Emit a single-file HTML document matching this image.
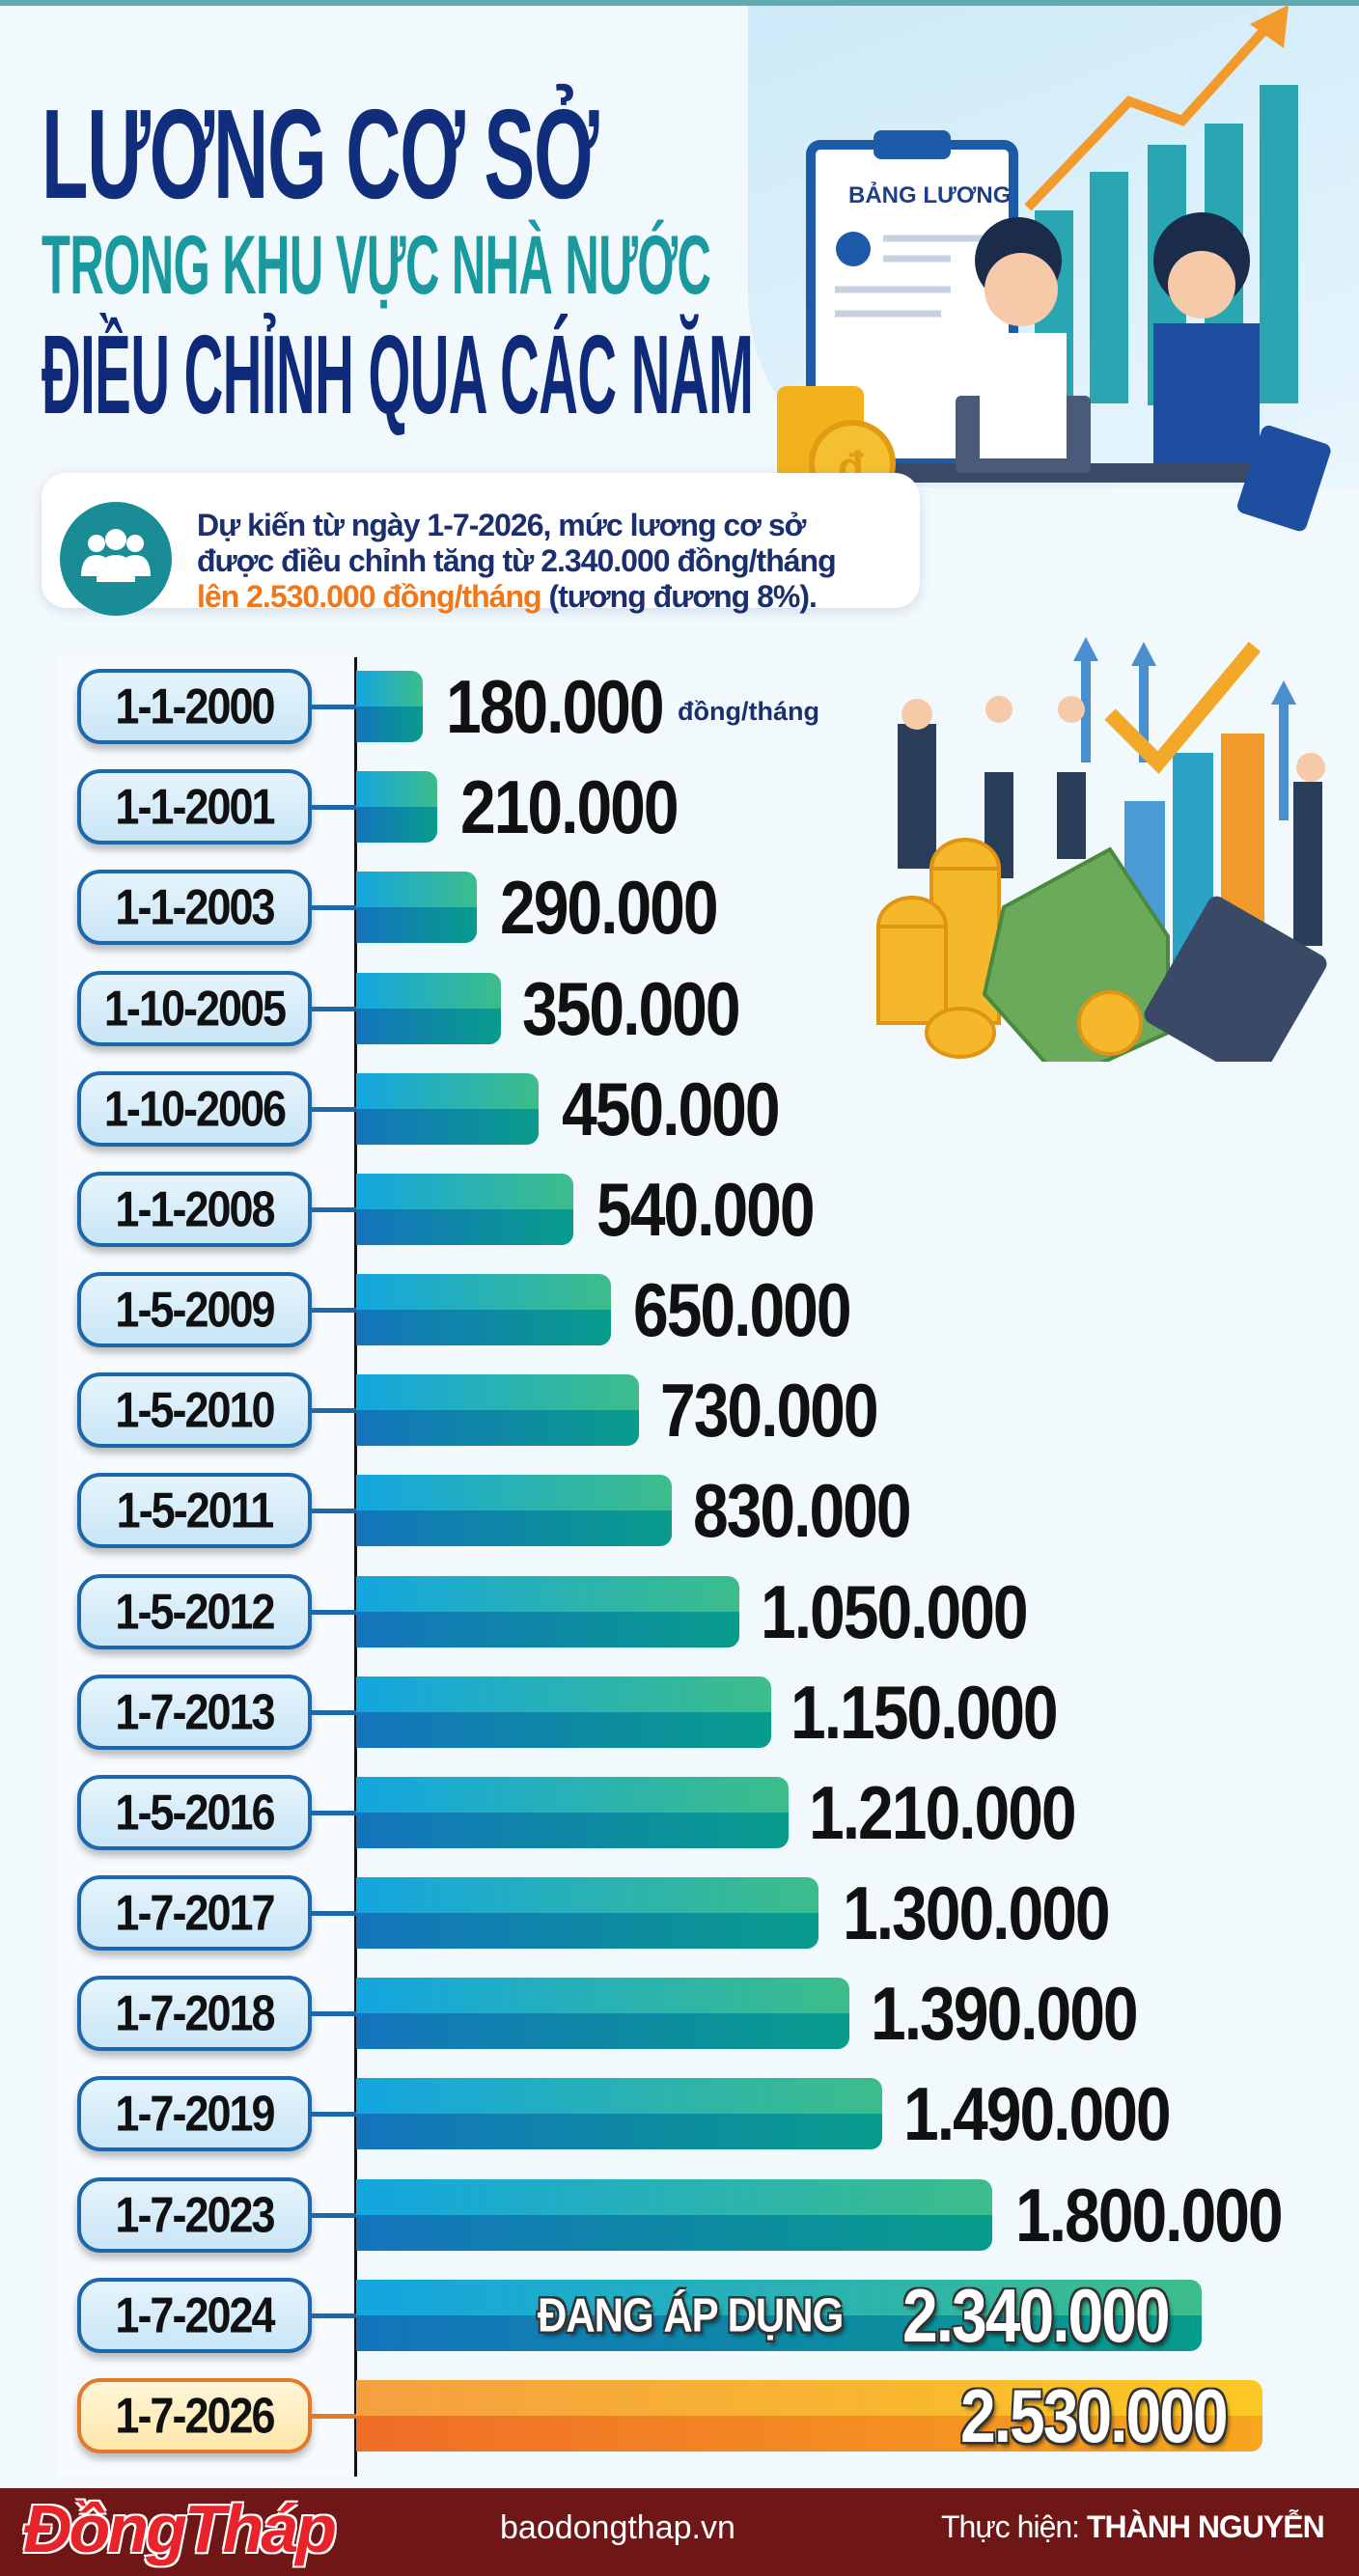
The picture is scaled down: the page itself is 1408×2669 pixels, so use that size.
<!DOCTYPE html>
<html><head><meta charset="utf-8">
<style>
*{margin:0;padding:0;box-sizing:border-box}
body{width:1408px;height:2669px;position:relative;overflow:hidden;background:#f2f9fd;font-family:"Liberation Sans","DejaVu Sans",sans-serif}
.abs{position:absolute}
.t{font-weight:bold;white-space:nowrap;transform-origin:0 0}
.pill{position:absolute;left:80px;width:243px;height:78px;border:4px solid #1d67ad;border-radius:24px;background:linear-gradient(#e6f4fc,#c9e6f7);box-shadow:0 6px 8px rgba(0,0,0,.25);text-align:center;font-weight:bold;font-size:45px;line-height:70px;color:#111;letter-spacing:-2px}
.pill span{display:inline-block;transform:scaleY(1.15)}
.pill.o{border-color:#e27a2a;background:linear-gradient(#fff6d8,#fde6a8)}
.conn{position:absolute;left:323px;width:46px;height:5px;background:#1d67ad}
.bar{position:absolute;left:369px;height:74px;border-radius:0 12px 12px 0;overflow:hidden}
.bar .top{height:50%;background:linear-gradient(90deg,#13a6e0,#3dbd8a)}
.bar .bot{height:50%;background:linear-gradient(90deg,#1474bd,#089c8c)}
.bar.o .top{background:linear-gradient(90deg,#f4a040,#fcc824)}
.bar.o .bot{background:linear-gradient(90deg,#f06d28,#f7a61e)}
.val{position:absolute;font-weight:bold;font-size:66px;color:#111;letter-spacing:-2px;white-space:nowrap;line-height:74px;transform:scaleY(1.18);transform-origin:0 50%}
.wv{color:#fff;text-shadow:2px 2px 0 #333,-2px -2px 0 #333,2px -2px 0 #333,-2px 2px 0 #333,3px 4px 4px rgba(0,0,0,.5)}
</style></head><body>
<div class="abs" style="left:0;top:0;width:1408px;height:6px;background:#5fa9b0"></div>
<div class="abs" style="left:775px;top:6px;width:633px;height:500px;background:linear-gradient(160deg,#cdeaf8,#e9f6fd);border-radius:0 0 0 200px"></div>
<svg class="abs" style="left:775px;top:0" width="633" height="560">
<g fill="#2aa6b2"><rect x="297" y="218" width="40" height="200"/><rect x="354" y="178" width="40" height="240"/><rect x="414" y="150" width="40" height="270"/><rect x="473" y="128" width="40" height="290"/><rect x="530" y="88" width="40" height="330"/></g>
<polyline points="290,215 395,105 450,125 545,20" fill="none" stroke="#f39a2c" stroke-width="10"/>
<polygon points="560,5 520,25 555,50" fill="#f39a2c"/>
<rect x="65" y="150" width="210" height="330" rx="10" fill="#fff" stroke="#1d5aa8" stroke-width="10"/>
<rect x="130" y="135" width="80" height="30" rx="8" fill="#1d5aa8"/>
<text x="104" y="210" font-family="Liberation Sans" font-weight="bold" font-size="24" fill="#1d3f8a">BẢNG LƯƠNG</text>
<circle cx="109" cy="258" r="18" fill="#1d5aa8"/>
<g stroke="#c7d2e0" stroke-width="7"><line x1="140" y1="247" x2="250" y2="247"/><line x1="140" y1="268" x2="210" y2="268"/><line x1="90" y1="300" x2="210" y2="300"/><line x1="90" y1="325" x2="200" y2="325"/></g>
<rect x="30" y="480" width="560" height="20" fill="#3b4a66"/>
<rect x="215" y="410" width="140" height="80" rx="6" fill="#4a5a78"/>
<circle cx="280" cy="270" r="45" fill="#1b2b4a"/><circle cx="283" cy="300" r="38" fill="#f6c9a8"/>
<rect x="240" y="345" width="90" height="130" fill="#fff"/>
<circle cx="470" cy="270" r="50" fill="#1b2b4a"/><circle cx="470" cy="295" r="35" fill="#f6c9a8"/>
<rect x="420" y="335" width="110" height="145" fill="#1d4ea0"/>
<g fill="#f2b21c"><rect x="30" y="400" width="90" height="110" rx="10"/></g>
<circle cx="108" cy="480" r="42" fill="#f5c030" stroke="#e29b12" stroke-width="6"/>
<text x="93" y="498" font-size="44" font-weight="bold" fill="#e29b12" font-family="Liberation Sans">đ</text>
<rect x="518" y="448" width="75" height="95" rx="8" fill="#1d4ea0" transform="rotate(18 555 495)"/>
</svg>
<div class="abs t" style="left:43px;top:84px;font-size:132px;color:#112e7c;transform:scaleX(0.6);letter-spacing:-2px">LƯƠNG CƠ SỞ</div>
<div class="abs t" style="left:43px;top:226px;font-size:86px;color:#1a9a9e;transform:scaleX(0.57);letter-spacing:-1px">TRONG KHU VỰC NHÀ NƯỚC</div>
<div class="abs t" style="left:43px;top:321px;font-size:116px;color:#0f2a78;transform:scaleX(0.485);letter-spacing:-1px">ĐIỀU CHỈNH QUA CÁC NĂM</div>
<div class="abs" style="left:43px;top:490px;width:910px;height:140px;background:#fff;border-radius:26px;box-shadow:0 3px 12px rgba(0,60,120,.15)"></div>
<div class="abs" style="left:62px;top:520px;width:116px;height:118px;border-radius:50%;background:#1a8c96"></div>
<svg class="abs" style="left:80px;top:545px" width="80" height="70"><g fill="#fff"><circle cx="20" cy="18" r="9"/><circle cx="60" cy="18" r="9"/><circle cx="40" cy="14" r="11"/><path d="M4 52 q0-22 16-22 q16 0 16 22z"/><path d="M44 52 q0-22 16-22 q16 0 16 22z"/><path d="M20 58 q0-28 20-28 q20 0 20 28z"/></g></svg>
<div class="abs" style="left:204px;top:526px;font-size:32px;line-height:37px;color:#1b2f6e;font-weight:bold;letter-spacing:-1px;white-space:nowrap">Dự kiến từ ngày 1-7-2026, mức lương cơ sở<br>được điều chỉnh tăng từ 2.340.000 đồng/tháng<br><span style="color:#f0781a">lên 2.530.000 đồng/tháng</span> (tương đương 8%).</div>
<svg class="abs" style="left:880px;top:650px" width="520" height="450">
<g fill="#4a8fd0"><polygon points="245,10 232,35 240,35 240,140 250,140 250,35 258,35"/><polygon points="305,15 292,40 300,40 300,140 310,140 310,40 318,40"/><polygon points="450,55 437,80 445,80 445,200 455,200 455,80 463,80"/></g>
<rect x="285" y="180" width="42" height="170" fill="#4a9ad6"/><rect x="335" y="130" width="42" height="230" fill="#2aa3c4"/>
<rect x="385" y="110" width="45" height="270" fill="#f39a2c"/>
<polyline points="270,90 320,140 420,20" fill="none" stroke="#f4a82a" stroke-width="16"/>
<g fill="#2a3e5a"><rect x="50" y="100" width="40" height="150"/><rect x="140" y="150" width="30" height="110"/><rect x="215" y="150" width="30" height="90"/><rect x="460" y="160" width="30" height="170"/></g>
<g fill="#f6c9a8"><circle cx="70" cy="90" r="16"/><circle cx="155" cy="85" r="14"/><circle cx="230" cy="85" r="14"/><circle cx="478" cy="145" r="15"/></g>
<g fill="#f4b82a" stroke="#e09414" stroke-width="4"><ellipse cx="120" cy="250" rx="35" ry="30"/><rect x="85" y="250" width="70" height="160"/><ellipse cx="65" cy="310" rx="35" ry="30"/><rect x="30" y="310" width="70" height="100"/><ellipse cx="115" cy="420" rx="35" ry="25"/></g>
<polygon points="160,290 270,230 330,320 330,420 220,470 140,380" fill="#6aaa5a" stroke="#4a8a40" stroke-width="4"/>
<rect x="330" y="300" width="140" height="150" rx="10" fill="#3a4a66" transform="rotate(30 400 375)"/>
<circle cx="270" cy="410" r="32" fill="#f4b82a" stroke="#e09414" stroke-width="4"/>
</svg>
<div class="abs" style="left:60px;top:681px;width:309px;height:1885px;background:#f7fbfd"></div>
<div class="abs" style="left:367px;top:681px;width:3px;height:1885px;background:#111"></div>

<div class="pill" style="top:693px"><span>1-1-2000</span></div><div class="conn" style="top:730px"></div><div class="bar" style="top:695px;width:69px"><div class="top"></div><div class="bot"></div></div><div class="val" style="left:462px;top:695px">180.000</div>
<div class="abs" style="left:702px;top:722px;font-size:27px;font-weight:bold;color:#1b2f6e">đồng/tháng</div>
<div class="pill" style="top:797px"><span>1-1-2001</span></div><div class="conn" style="top:834px"></div><div class="bar" style="top:799px;width:84px"><div class="top"></div><div class="bot"></div></div><div class="val" style="left:477px;top:799px">210.000</div>
<div class="pill" style="top:901px"><span>1-1-2003</span></div><div class="conn" style="top:938px"></div><div class="bar" style="top:903px;width:125px"><div class="top"></div><div class="bot"></div></div><div class="val" style="left:518px;top:903px">290.000</div>
<div class="pill" style="top:1006px"><span>1-10-2005</span></div><div class="conn" style="top:1043px"></div><div class="bar" style="top:1008px;width:150px"><div class="top"></div><div class="bot"></div></div><div class="val" style="left:541px;top:1008px">350.000</div>
<div class="pill" style="top:1110px"><span>1-10-2006</span></div><div class="conn" style="top:1147px"></div><div class="bar" style="top:1112px;width:189px"><div class="top"></div><div class="bot"></div></div><div class="val" style="left:582px;top:1112px">450.000</div>
<div class="pill" style="top:1214px"><span>1-1-2008</span></div><div class="conn" style="top:1251px"></div><div class="bar" style="top:1216px;width:225px"><div class="top"></div><div class="bot"></div></div><div class="val" style="left:618px;top:1216px">540.000</div>
<div class="pill" style="top:1318px"><span>1-5-2009</span></div><div class="conn" style="top:1355px"></div><div class="bar" style="top:1320px;width:264px"><div class="top"></div><div class="bot"></div></div><div class="val" style="left:656px;top:1320px">650.000</div>
<div class="pill" style="top:1422px"><span>1-5-2010</span></div><div class="conn" style="top:1459px"></div><div class="bar" style="top:1424px;width:293px"><div class="top"></div><div class="bot"></div></div><div class="val" style="left:684px;top:1424px">730.000</div>
<div class="pill" style="top:1526px"><span>1-5-2011</span></div><div class="conn" style="top:1563px"></div><div class="bar" style="top:1528px;width:327px"><div class="top"></div><div class="bot"></div></div><div class="val" style="left:718px;top:1528px">830.000</div>
<div class="pill" style="top:1631px"><span>1-5-2012</span></div><div class="conn" style="top:1668px"></div><div class="bar" style="top:1633px;width:397px"><div class="top"></div><div class="bot"></div></div><div class="val" style="left:788px;top:1633px">1.050.000</div>
<div class="pill" style="top:1735px"><span>1-7-2013</span></div><div class="conn" style="top:1772px"></div><div class="bar" style="top:1737px;width:430px"><div class="top"></div><div class="bot"></div></div><div class="val" style="left:819px;top:1737px">1.150.000</div>
<div class="pill" style="top:1839px"><span>1-5-2016</span></div><div class="conn" style="top:1876px"></div><div class="bar" style="top:1841px;width:448px"><div class="top"></div><div class="bot"></div></div><div class="val" style="left:838px;top:1841px">1.210.000</div>
<div class="pill" style="top:1943px"><span>1-7-2017</span></div><div class="conn" style="top:1980px"></div><div class="bar" style="top:1945px;width:479px"><div class="top"></div><div class="bot"></div></div><div class="val" style="left:873px;top:1945px">1.300.000</div>
<div class="pill" style="top:2047px"><span>1-7-2018</span></div><div class="conn" style="top:2084px"></div><div class="bar" style="top:2049px;width:511px"><div class="top"></div><div class="bot"></div></div><div class="val" style="left:902px;top:2049px">1.390.000</div>
<div class="pill" style="top:2151px"><span>1-7-2019</span></div><div class="conn" style="top:2188px"></div><div class="bar" style="top:2153px;width:545px"><div class="top"></div><div class="bot"></div></div><div class="val" style="left:936px;top:2153px">1.490.000</div>
<div class="pill" style="top:2256px"><span>1-7-2023</span></div><div class="conn" style="top:2293px"></div><div class="bar" style="top:2258px;width:659px"><div class="top"></div><div class="bot"></div></div><div class="val" style="left:1052px;top:2258px">1.800.000</div>
<div class="pill" style="top:2360px"><span>1-7-2024</span></div><div class="conn" style="top:2397px"></div><div class="bar" style="top:2362px;width:876px"><div class="top"></div><div class="bot"></div></div>
<div class="val wv" style="left:557px;top:2362px;font-size:42px;letter-spacing:-1px">ĐANG ÁP DỤNG</div>
<div class="val wv" style="left:935px;top:2362px">2.340.000</div>
<div class="pill o" style="top:2464px"><span>1-7-2026</span></div><div class="conn" style="top:2501px;background:#e27a2a"></div><div class="bar o" style="top:2466px;width:939px"><div class="top"></div><div class="bot"></div></div>
<div class="val wv" style="left:995px;top:2466px">2.530.000</div>

<div class="abs" style="left:0;top:2578px;width:1408px;height:91px;background:#6f1616"></div>
<div class="abs" style="left:24px;top:2580px;font-size:70px;font-weight:bold;font-style:italic;color:#e8232a;letter-spacing:-3px;text-shadow:2px 2px 0 #fff,-2px -2px 0 #fff,2px -2px 0 #fff,-2px 2px 0 #fff">ĐồngTháp</div>
<div class="abs" style="left:518px;top:2600px;font-size:34px;color:#fff">baodongthap.vn</div>
<div class="abs" style="left:975px;top:2600px;font-size:32px;color:#fff;white-space:nowrap;letter-spacing:-1px">Thực hiện: <b>THÀNH NGUYỄN</b></div>
</body></html>
